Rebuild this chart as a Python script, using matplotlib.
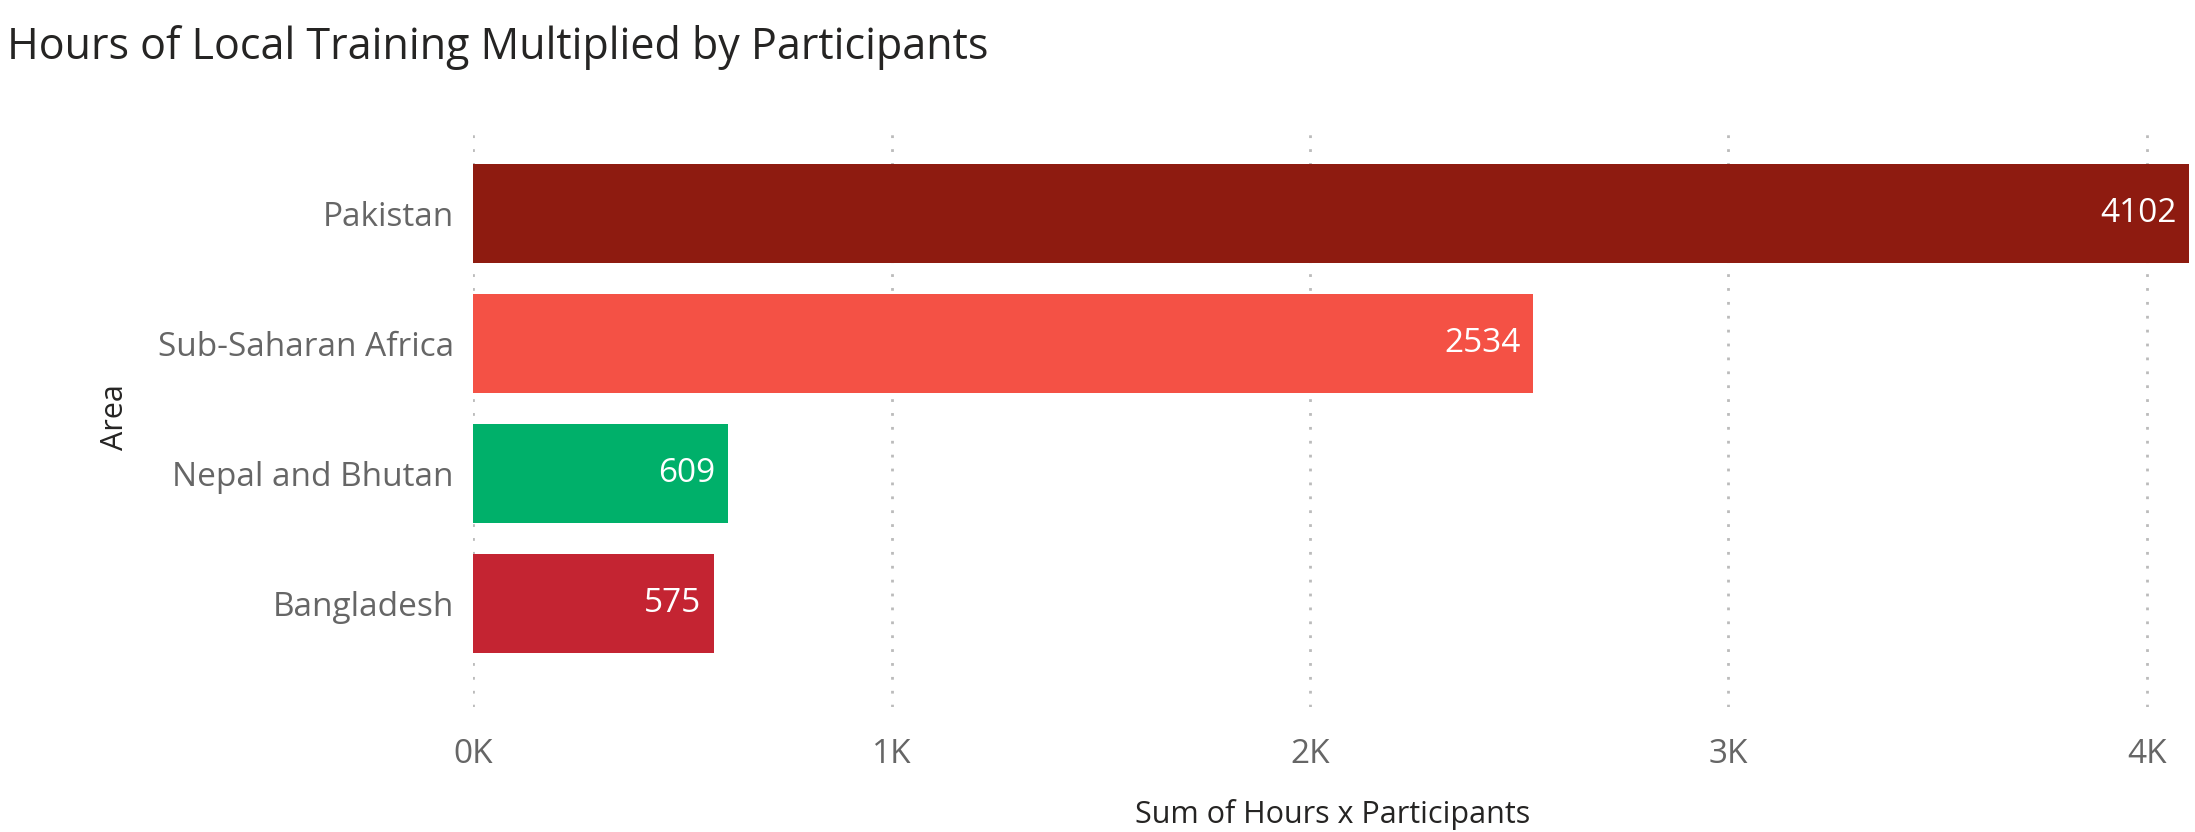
import matplotlib
matplotlib.use("Agg")
import matplotlib.pyplot as plt

areas = ["Pakistan", "Sub-Saharan Africa", "Nepal and Bhutan", "Bangladesh"]
values = [4102, 2534, 609, 575]
colors = ["#8E1B10", "#F45145", "#00B06A", "#C42432"]
ticks = [0, 1000, 2000, 3000, 4000]
tick_labels = ["0K", "1K", "2K", "3K", "4K"]

plt.rcParams['font.family'] = ['Open Sans', 'DejaVu Sans']
fig = plt.figure(figsize=(21.95, 8.32), dpi=100)
ax = fig.add_axes([0.2156, 0.15, 0.7834, 0.698])
pos = [3, 2, 1, 0]
ax.barh(pos, values, height=0.76, color=colors, zorder=3)
for p, v in zip(pos, values):
    ax.text(v - 30, p, str(v), ha="right", va="center", color="white", fontsize=24, zorder=4)
ax.set_xlim(0, 4110)
ax.set_ylim(-0.8, 3.67)
ax.set_yticks(pos)
ax.set_yticklabels(areas, fontsize=24, color="#666666")
ax.set_xticks(ticks)
ax.set_xticklabels(tick_labels, fontsize=24, color="#666666")
ax.tick_params(length=0, pad=14)
ax.tick_params(axis='x', pad=22)
ax.grid(axis='x', linestyle=(0, (1, 4)), color="#BBBBBB", linewidth=2, zorder=0)
for s in ax.spines.values():
    s.set_visible(False)
ax.set_xlabel("Sum of Hours x Participants", fontsize=22, color="#252423", labelpad=20)
ax.set_ylabel("Area", fontsize=22, color="#252423", labelpad=20)
fig.text(0.003, 0.97, "Hours of Local Training Multiplied by Participants", fontsize=31, color="#252423", va="top", ha="left")
fig.savefig("out.png", dpi=100)
